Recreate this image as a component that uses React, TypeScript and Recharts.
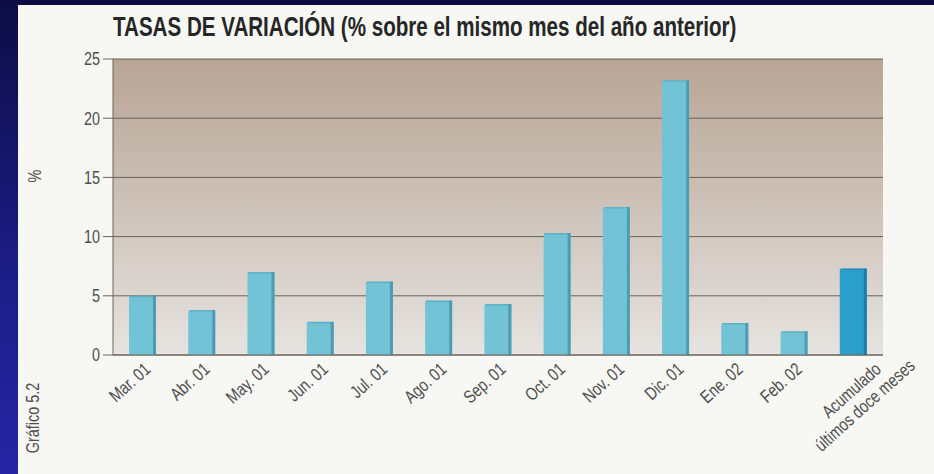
import React from 'react';
import {
    Bar,
    BarChart,
    CartesianGrid,
    Cell,
    XAxis,
    YAxis,
} from 'recharts';

const months = [
    'Mar. 01',
    'Abr. 01',
    'May. 01',
    'Jun. 01',
    'Jul. 01',
    'Ago. 01',
    'Sep. 01',
    'Oct. 01',
    'Nov. 01',
    'Dic. 01',
    'Ene. 02',
    'Feb. 02',
    'Acumulado|últimos doce meses',
];
const rates = [5.0, 3.8, 7.0, 2.8, 6.2, 4.6, 4.3, 10.3, 12.5, 23.2, 2.7, 2.0, 7.3];
const yTicks = [0, 5, 10, 15, 20, 25];

const data = months.map((m, i) => ({ month: m, rate: rates[i] }));

const FONT = '"Liberation Sans", Arial, sans-serif';
const TEXT = '#4e4e4e';
const LINE = '#6b625b';
const NARROW = 0.8;

const ShadedBar = (props: any) => {
    const { x, y, width, height, index } = props;
    if (!height || height <= 0) return null;
    const last = index === rates.length - 1;
    const face = last ? '#2b9fca' : '#72c3d6';
    const side = last ? '#1c7ea6' : '#4d9db2';
    const r = 2;
    return (
        <g>
            <path
                d={`M${x},${y + height} L${x},${y + r} Q${x},${y} ${x + r},${y} L${x + width},${y} L${x + width},${y + height} Z`}
                fill={face}
            />
            <rect x={x + width - 3} y={y} width={3} height={height} fill={side} />
            <rect x={x + 1} y={y} width={width - 4} height={1.5} fill={side} opacity={0.5} />
        </g>
    );
};

const NarrowText = ({ children, anchor, dy, y }: any) => (
    <g transform={`scale(${NARROW},1)`}>
        <text
            x={0}
            y={y || 0}
            dy={dy}
            textAnchor={anchor}
            fill={TEXT}
            fontSize={18}
            fontFamily={FONT}
        >
            {children}
        </text>
    </g>
);

const MonthTick = ({ x, y, payload }: any) => {
    const lines = String(payload.value).split('|');
    if (lines.length > 1) {
        return (
            <g transform={`translate(${x + 2},${y + 32}) rotate(-42)`}>
                <NarrowText anchor="middle">{lines[0]}</NarrowText>
                <NarrowText anchor="middle" y={20}>
                    {lines[1]}
                </NarrowText>
            </g>
        );
    }
    return (
        <g transform={`translate(${x + 9},${y + 8}) rotate(-42)`}>
            <NarrowText anchor="end">{lines[0]}</NarrowText>
        </g>
    );
};

const ValueTick = ({ x, y, payload }: any) => (
    <g transform={`translate(${x},${y})`}>
        <NarrowText anchor="end" dy="0.36em">
            {payload.value}
        </NarrowText>
    </g>
);

const App = () => {
    return (
        <div
            style={{
                position: 'fixed',
                left: 0,
                top: 0,
                width: 1000,
                height: 600,
                background: '#f7f7f4',
                overflow: 'hidden',
            }}
        >
            <style>{'html,body{margin:0;overflow:hidden;background:#f7f7f4}'}</style>
            <div
                style={{
                    position: 'absolute',
                    left: 0,
                    top: 0,
                    width: 18,
                    height: 600,
                    background: 'linear-gradient(#0d0d45, #1c1c86 45%, #2626a6 80%)',
                }}
            />
            <div
                style={{
                    position: 'absolute',
                    left: 0,
                    top: 0,
                    width: 1000,
                    height: 5,
                    background: '#0c0c42',
                }}
            />
            <svg
                width={934}
                height={474}
                style={{ position: 'absolute', left: 0, top: 0 }}
            >
                <g transform="translate(113,36) scale(0.735,1)">
                    <text
                        x={0}
                        y={0}
                        fontSize={28}
                        fontWeight="bold"
                        fontFamily={FONT}
                        fill="#262626"
                    >
                        TASAS DE VARIACIÓN (% sobre el mismo mes del año anterior)
                    </text>
                </g>
                <g transform="translate(41,176) rotate(-90)">
                    <NarrowText anchor="middle">%</NarrowText>
                </g>
                <g transform="translate(39,418) rotate(-90)">
                    <NarrowText anchor="middle">Gráfico 5.2</NarrowText>
                </g>
            </svg>
            <div style={{ position: 'absolute', left: 0, top: 0 }}>
                <BarChart
                    width={934}
                    height={474}
                    data={data}
                    margin={{ top: 59, right: 51, bottom: 9, left: 73 }}
                    barSize={27}
                >
                    <defs>
                        <linearGradient id="plotBg" x1="0" y1="0" x2="0" y2="1">
                            <stop offset="0%" stopColor="#b8a596" />
                            <stop offset="45%" stopColor="#cbbfb5" />
                            <stop offset="100%" stopColor="#e6e3e0" />
                        </linearGradient>
                    </defs>
                    <CartesianGrid
                        yAxisId="left"
                        vertical={false}
                        stroke={LINE}
                        strokeOpacity={1}
                        fill="url(#plotBg)"
                        fillOpacity={1}
                    />
                    <XAxis
                        dataKey="month"
                        interval={0}
                        height={110}
                        tickLine={false}
                        axisLine={{ stroke: LINE }}
                        tick={<MonthTick />}
                    />
                    <YAxis
                        yAxisId="left"
                        domain={[0, 25]}
                        ticks={yTicks}
                        width={40}
                        tickSize={10}
                        tickMargin={3}
                        axisLine={{ stroke: LINE }}
                        tickLine={{ stroke: LINE }}
                        tick={<ValueTick />}
                    />
                    <YAxis
                        yAxisId="right"
                        orientation="right"
                        domain={[0, 25]}
                        width={0}
                        tick={false}
                        tickLine={false}
                        axisLine={{ stroke: LINE }}
                    />
                    <Bar
                        yAxisId="left"
                        dataKey="rate"
                        shape={<ShadedBar />}
                        isAnimationActive={false}
                    >
                        {data.map((d, i) => (
                            <Cell key={d.month} fill={i === rates.length - 1 ? '#2b9fca' : '#72c3d6'} />
                        ))}
                    </Bar>
                </BarChart>
            </div>
        </div>
    );
};

export default App;
